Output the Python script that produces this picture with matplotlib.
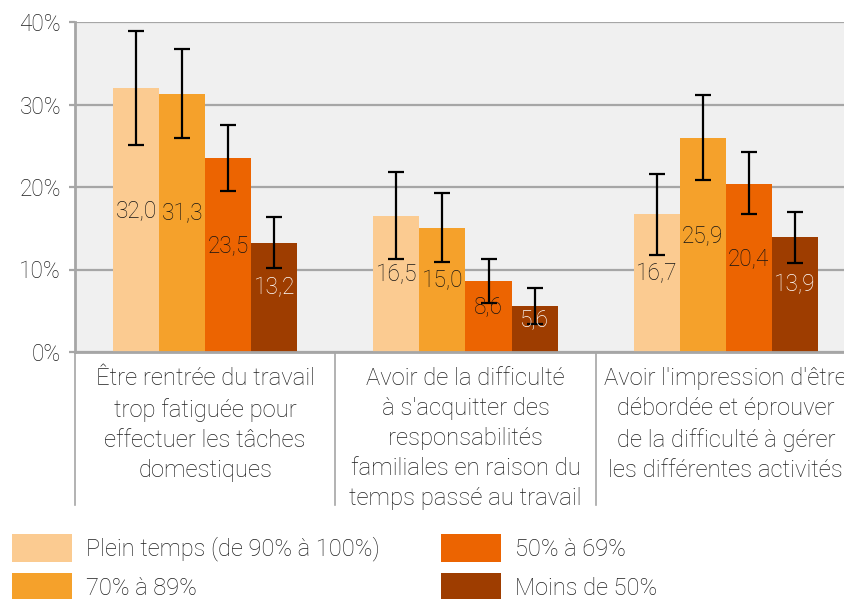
import matplotlib
matplotlib.use("Agg")
import matplotlib.pyplot as plt
import matplotlib.transforms as mtransforms
from matplotlib.patches import Patch
import numpy as np

plt.rcParams['font.family'] = ['Roboto', 'DejaVu Sans']

categories = [
    "Être rentrée du travail\ntrop fatiguée pour\neffectuer les tâches\ndomestiques",
    "Avoir de la difficulté\nà s'acquitter des\nresponsabilités\nfamiliales en raison du\ntemps passé au travail",
    "Avoir l'impression d'être\ndébordée et éprouver\nde la difficulté à gérer\nles différentes activités",
]
series_names = ["Plein temps (de 90% à 100%)", "70% à 89%", "50% à 69%", "Moins de 50%"]
values = [
    [32.0, 16.5, 16.7],
    [31.3, 15.0, 25.9],
    [23.5, 8.6, 20.4],
    [13.2, 5.6, 13.9],
]
err_low = [
    [25.1, 11.3, 11.8],
    [25.9, 10.9, 20.8],
    [19.5, 5.9, 16.7],
    [10.2, 3.4, 10.8],
]
err_high = [
    [38.9, 21.8, 21.6],
    [36.7, 19.3, 31.2],
    [27.5, 11.3, 24.2],
    [16.4, 7.8, 17.0],
]
label_texts = [
    ["32,0", "16,5", "16,7"],
    ["31,3", "15,0", "25,9"],
    ["23,5", "8,6", "20,4"],
    ["13,2", "5,6", "13,9"],
]
yticks = [0, 10, 20, 30, 40]
ytick_labels = ["0%", "10%", "20%", "30%", "40%"]

colors = ["#FBCB91", "#F5A12B", "#EC6401", "#9E3D00"]
label_colors = ["#141414", "#141414", "#141414", "#FFFFFF"]
text_color = "#1F1F1F"
grid_color = "#A6A6A6"

W, H = 845, 599
fig = plt.figure(figsize=(W / 100, H / 100), dpi=100)
ax = fig.add_axes([75 / W, (H - 352) / H, (856 - 75) / W, 330 / H])
ax.set_facecolor("#F0F0F0")

x = np.arange(len(categories))
bw = 46 / 260
for i in range(4):
    xs = x + (i - 1.5) * bw
    v = np.array(values[i])
    lo = v - np.array(err_low[i])
    hi = np.array(err_high[i]) - v
    ax.bar(xs, v, width=bw, color=colors[i], zorder=2)
    ax.errorbar(xs, v, yerr=[lo, hi], fmt="none", ecolor="black",
                elinewidth=1.6, capsize=5.5, capthick=1.6, zorder=4)
    for xx, vv, t in zip(xs, v, label_texts[i]):
        ax.annotate(t, (xx, vv / 2), xytext=(0, 7), textcoords="offset points",
                    ha="center", va="center", fontsize=16.3, color=label_colors[i],
                    fontweight="light", zorder=5)

ax.set_xlim(-0.5, 2.5)
ax.set_ylim(0, 40)
ax.set_yticks(yticks)
ax.set_yticklabels(ytick_labels, fontsize=16.3, color=text_color, fontweight="light")
ax.yaxis.grid(True, color=grid_color, linewidth=1.6, zorder=1)
ax.set_axisbelow(True)
ax.tick_params(axis="y", length=4, width=1.6, color=grid_color, pad=6)

ax.set_xticks(x)
ax.set_xticklabels(categories, fontsize=17.2, color=text_color, fontweight="light",
                   linespacing=1.39, va="top")
ax.tick_params(axis="x", length=0, pad=11)

for s in ["top", "right"]:
    ax.spines[s].set_visible(False)
for s in ["left", "bottom"]:
    ax.spines[s].set_color(grid_color)
    ax.spines[s].set_linewidth(2)

trans = mtransforms.blended_transform_factory(ax.transData, ax.transAxes)
for sx in [-0.5, 0.5, 1.5]:
    ax.plot([sx, sx], [0, -(505 - 352) / 330], transform=trans, color=grid_color,
            linewidth=1.2, clip_on=False, zorder=1)

handles = [Patch(facecolor=c, edgecolor="none") for c in colors]
fig.legend(handles, series_names, loc="upper left", bbox_to_anchor=(12 / W, 1 - 534 / H),
           ncol=2, frameon=False, handlelength=2.54, handleheight=1.43,
           columnspacing=2.6, labelspacing=0.47, handletextpad=0.6,
           borderpad=0, borderaxespad=0,
           prop={"family": ["Roboto", "DejaVu Sans"], "weight": "light", "size": 17},
           labelcolor=text_color)

fig.savefig("out.png", dpi=100)
